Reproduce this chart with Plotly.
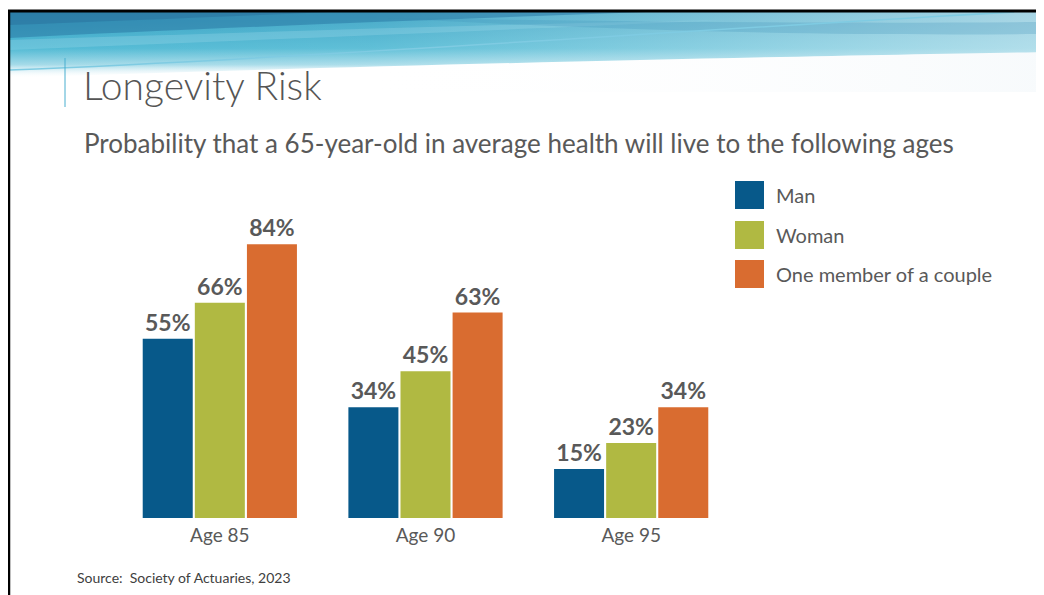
import base64
import plotly.graph_objects as go

categories = ["Age 85", "Age 90", "Age 95"]
series_names = ["Man", "Woman", "One member of a couple"]
man = [55, 34, 15]
woman = [66, 45, 23]
couple = [84, 63, 34]
series_values = [man, woman, couple]
colors = ["#07598a", "#b0b942", "#d96c30"]

# page has an 8px body margin; work in screen pixels and convert
OFF = 8
W, H = 1036, 587
GRAY = "#595959"
FONT = "Lato"


def px(x):
    return (x - OFF) / W


def py(y):
    return 1 - (y - OFF) / H


fig = go.Figure()
for name, vals, col in zip(series_names, series_values, colors):
    fig.add_trace(go.Bar(
        x=categories, y=vals, name=name,
        marker=dict(color=col, line=dict(width=0)),
        text=[f"{v}%" for v in vals], textposition="outside",
        textfont=dict(family=FONT, size=23, color=GRAY, weight="bold"),
        cliponaxis=False, showlegend=False,
    ))

svg = """<svg xmlns='http://www.w3.org/2000/svg' width='1040' height='80' viewBox='0 0 1040 80' preserveAspectRatio='none'>
<defs>
<linearGradient id='v' x1='0' y1='0' x2='0' y2='1'>
<stop offset='0' stop-color='#37a1c3'/>
<stop offset='0.55' stop-color='#52bad4'/>
<stop offset='0.8' stop-color='#a6dbe9'/>
<stop offset='1' stop-color='#ffffff' stop-opacity='0'/>
</linearGradient>
<linearGradient id='h' x1='0' y1='0' x2='1' y2='0'>
<stop offset='0' stop-color='#ffffff' stop-opacity='0'/>
<stop offset='0.35' stop-color='#ffffff' stop-opacity='0.08'/>
<stop offset='1' stop-color='#f2f7fa' stop-opacity='0.6'/>
</linearGradient>
</defs>
<path d='M0 0 H1040 V40 C800 44 400 52 0 66 Z' fill='url(#v)'/>
<path d='M0 0 H1040 V80 H0 Z' fill='url(#h)'/>
<path d='M0 0 H640 C420 8 200 16 0 26 Z' fill='#2a78a4' opacity='0.55'/>
<path d='M0 0 H320 C210 5 100 9 0 13 Z' fill='#276c99' opacity='0.45'/>
<path d='M0 28 C250 20 500 12 720 8 C500 18 250 28 0 38 Z' fill='#9fdcec' opacity='0.3'/>
<path d='M380 6 C600 18 800 24 1040 22 V10 C800 12 600 9 380 6 Z' fill='#3d8fb8' opacity='0.25'/>
<path d='M0 58 C300 46 650 20 1010 0' stroke='#7fcbe2' stroke-width='1.5' fill='none'/>
</svg>"""
uri = "data:image/svg+xml;base64," + base64.b64encode(svg.encode()).decode()

images = [dict(source=uri, xref="paper", yref="paper", x=px(9), y=py(12),
               sizex=(W + OFF - 9) / W, sizey=80 / H, sizing="stretch",
               xanchor="left", yanchor="top", layer="below")]

shapes = [
    dict(type="line", xref="paper", yref="paper", x0=0, x1=1.0, y0=py(11), y1=py(11),
         line=dict(color="black", width=3)),
    dict(type="line", xref="paper", yref="paper", x0=1 / W, x1=1 / W, y0=0, y1=py(10),
         line=dict(color="black", width=2.5)),
    dict(type="line", xref="paper", yref="paper", x0=px(65), x1=px(65), y0=py(107), y1=py(58),
         line=dict(color="#49aecf", width=1)),
]

annotations = [
    dict(text="Longevity Risk", x=px(81), y=py(85), xref="paper", yref="paper",
         xanchor="left", yanchor="middle", showarrow=False,
         font=dict(family=FONT, size=39, color="#555555", weight=300)),
    dict(text="Probability that a 65-year-old in average health will live to the following ages",
         x=px(82), y=py(143), xref="paper", yref="paper",
         xanchor="left", yanchor="middle", showarrow=False,
         font=dict(family=FONT, size=26, color=GRAY)),
    dict(text="Source:  Society of Actuaries, 2023", x=px(75), y=py(577), xref="paper", yref="paper",
         xanchor="left", yanchor="middle", showarrow=False,
         font=dict(family=FONT, size=14, color="#404040")),
]

leg_y = [195, 235, 274]
for name, col, yc in zip(series_names, colors, leg_y):
    shapes.append(dict(type="rect", xref="paper", yref="paper",
                       x0=px(735), x1=px(764), y0=py(yc + 14), y1=py(yc - 14),
                       fillcolor=col, line=dict(width=0)))
    annotations.append(dict(text=name, x=px(774), y=py(yc), xref="paper", yref="paper",
                            xanchor="left", yanchor="middle", showarrow=False,
                            font=dict(family=FONT, size=20, color=GRAY)))

fig.update_layout(
    width=W, height=H, margin=dict(l=0, r=0, t=0, b=0),
    paper_bgcolor="white", plot_bgcolor="white",
    barmode="group", bargap=0.24, bargroupgap=0.04,
    images=images, shapes=shapes, annotations=annotations,
    xaxis=dict(domain=[px(117), px(734)], range=[-0.5, 2.5], showgrid=False, zeroline=False,
               showline=False, ticks="", ticklabelstandoff=4,
               tickfont=dict(family=FONT, size=19, color=GRAY)),
    yaxis=dict(domain=[py(518), py(192)], range=[0, 100], visible=False),
    font=dict(family=FONT),
)

fig.write_html(
    "out.html",
    config={"displayModeBar": False},
    post_script="document.documentElement.style.overflow='hidden';document.body.style.overflow='hidden';",
)
